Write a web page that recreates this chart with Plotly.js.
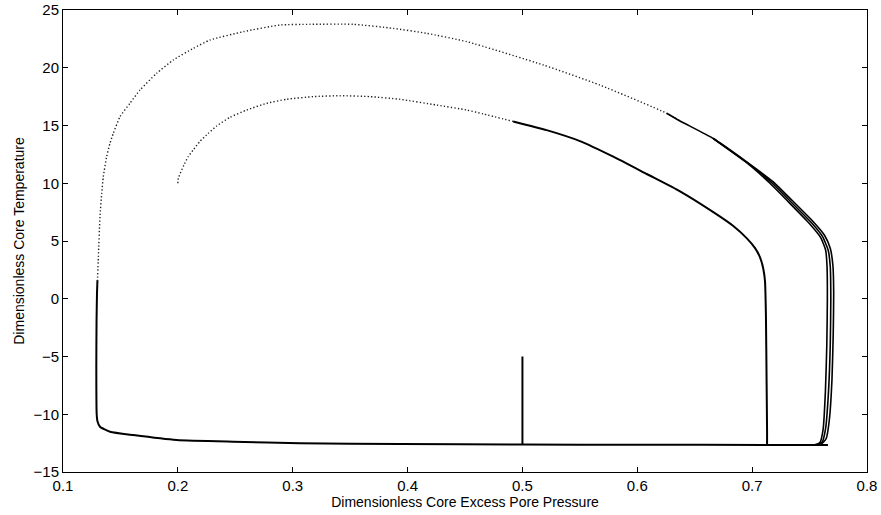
<!DOCTYPE html>
<html>
<head>
<meta charset="utf-8">
<script src="https://cdn.plot.ly/plotly-3.0.1.min.js"></script>
<style>html,body{margin:0;padding:0;background:#fff}#chart{width:881px;height:515px}</style>
</head>
<body>
<div id="chart"></div>
<script>
// ---- data ----
// start segment (initial condition at p=0.5, T=-5)
var startX = [0.5, 0.5];
var startY = [-5, -12.62];

// inner arc, fast (sparse dotted) part, starting at (0.2, 10)
var innerFastX = [0.2, 0.2004, 0.2053, 0.209, 0.2134, 0.219, 0.2265, 0.2338, 0.2454, 0.26, 0.2773, 0.2948, 0.318, 0.3412, 0.3673, 0.3934, 0.4253, 0.4515, 0.4659, 0.4920];
var innerFastY = [10, 10.43, 11.58, 12.3, 12.88, 13.6, 14.32, 14.96, 15.71, 16.34, 16.92, 17.27, 17.5, 17.58, 17.5, 17.27, 16.77, 16.34, 16.0, 15.35];

// inner arc, slow (solid) part, and its drop at p ~ 0.713
var innerSlowX = [0.4920, 0.5211, 0.5501, 0.5791, 0.6082, 0.6372, 0.6662, 0.6836, 0.6952, 0.7024, 0.7068, 0.7097, 0.7112, 0.7120, 0.7126, 0.7130, 0.7130];
var innerSlowY = [15.35, 14.6, 13.65, 12.3, 10.8, 9.3, 7.5, 6.3, 5.25, 4.4, 3.6, 2.6, 1.5, -1.5, -7.3, -11.5, -12.66];

// bottom branch (slow), from right to left, then up the left side at p ~ 0.13
var bottomX = [0.766, 0.713, 0.6, 0.5, 0.3934, 0.3063, 0.2483, 0.199, 0.1612, 0.141, 0.1322, 0.1300, 0.1293, 0.1290, 0.1292, 0.1296, 0.1300];
var bottomY = [-12.66, -12.66, -12.64, -12.62, -12.58, -12.5, -12.38, -12.23, -11.8, -11.51, -11.08, -10.6, -9.92, -6.0, -2.0, 0.5, 1.6];

// outer arc, fast (sparse dotted) part
var outerFastX = [0.1298, 0.1308, 0.1322, 0.1337, 0.1351, 0.138, 0.1409, 0.1438, 0.1496, 0.1583, 0.167, 0.1816, 0.196, 0.2134, 0.228, 0.257, 0.2889, 0.315, 0.3527, 0.3876, 0.4166, 0.4515, 0.5182, 0.5675, 0.6256, 0.6372];
var outerFastY = [1.2, 3.64, 7.1, 9.13, 10.57, 12.3, 13.46, 14.32, 15.76, 16.92, 18.07, 19.52, 20.67, 21.68, 22.4, 23.12, 23.7, 23.76, 23.76, 23.41, 22.98, 22.26, 20.24, 18.5, 16.06, 15.39];

// outer loop, slow (solid) part: outermost pass
var outerSlowAX = [0.6256, 0.6372, 0.6662, 0.6952, 0.7184, 0.7330, 0.7532, 0.7630, 0.7680, 0.7703, 0.7710, 0.7706, 0.7695, 0.7672, 0.7645, 0.7600, 0.7550];
var outerSlowAY = [16.06, 15.39, 13.87, 11.85, 10.12, 8.69, 6.67, 5.5, 4.37, 2.9, 0.5, -3.0, -7.0, -10.5, -12.1, -12.6, -12.66];

// outer loop, slow part: later passes (limit cycle)
var outerSlowBX = [0.6662, 0.6952, 0.7170, 0.7315, 0.7515, 0.7612, 0.7662, 0.7680, 0.7685, 0.7680, 0.7665, 0.7640, 0.7610, 0.7560];
var outerSlowBY = [13.87, 11.82, 10.05, 8.62, 6.6, 5.4, 4.2, 2.8, 0.0, -4.0, -8.0, -11.2, -12.4, -12.66];
var outerSlowCX = [0.6662, 0.6952, 0.7155, 0.7300, 0.7500, 0.7597, 0.7640, 0.7652, 0.7655, 0.7650, 0.7638, 0.7618, 0.7590, 0.7540];
var outerSlowCY = [13.87, 11.78, 10.0, 8.55, 6.5, 5.3, 4.2, 2.8, 0.0, -4.0, -8.0, -11.3, -12.45, -12.66];

// axis ticks
var xTicks = [0.1, 0.2, 0.3, 0.4, 0.5, 0.6, 0.7, 0.8];
var yTicks = [-15, -10, -5, 0, 5, 10, 15, 20, 25];

// ---- traces ----
function solid(x, y, w) {
  return {x: x, y: y, type: 'scatter', mode: 'lines', hoverinfo: 'skip', showlegend: false,
          line: {color: '#000', width: w || 2, shape: 'spline', smoothing: 0.5}};
}
function dotted(x, y) {
  return {x: x, y: y, type: 'scatter', mode: 'lines', hoverinfo: 'skip', showlegend: false,
          line: {color: '#222', width: 1.4, dash: '1.3px,2.2px', shape: 'spline', smoothing: 0.5}};
}

var data = [
  solid(startX, startY),
  dotted(innerFastX, innerFastY),
  solid(innerSlowX, innerSlowY),
  solid(bottomX, bottomY),
  dotted(outerFastX, outerFastY),
  solid(outerSlowAX, outerSlowAY, 1.6),
  solid(outerSlowBX, outerSlowBY, 1.6),
  solid(outerSlowCX, outerSlowCY, 1.6)
];

var fam = 'Liberation Sans, Arial, Helvetica, sans-serif';
var font = {family: fam, size: 15, color: '#000'};
var axisCommon = {
  showgrid: false, zeroline: false, showline: true, mirror: 'ticks',
  linecolor: '#000', linewidth: 1, ticks: 'inside', ticklen: 5, tickwidth: 1, tickcolor: '#000',
  tickfont: font
};

var layout = {
  width: 881, height: 515,
  margin: {l: 63, r: 14, t: 10, b: 43},
  paper_bgcolor: '#fff', plot_bgcolor: '#fff',
  font: font,
  showlegend: false,
  xaxis: Object.assign({}, axisCommon, {
    range: [0.1, 0.8], tickvals: xTicks, ticktext: xTicks.map(String),
    title: {text: 'Dimensionless Core Excess Pore Pressure', font: {family: fam, size: 14, color: '#000'}, standoff: 1}
  }),
  yaxis: Object.assign({}, axisCommon, {
    range: [-15, 25], tickvals: yTicks,
    title: {text: 'Dimensionless Core Temperature', font: {family: fam, size: 14, color: '#000'}, standoff: 5}
  })
};

Plotly.newPlot('chart', data, layout, {staticPlot: true, displayModeBar: false});
</script>
</body>
</html>
